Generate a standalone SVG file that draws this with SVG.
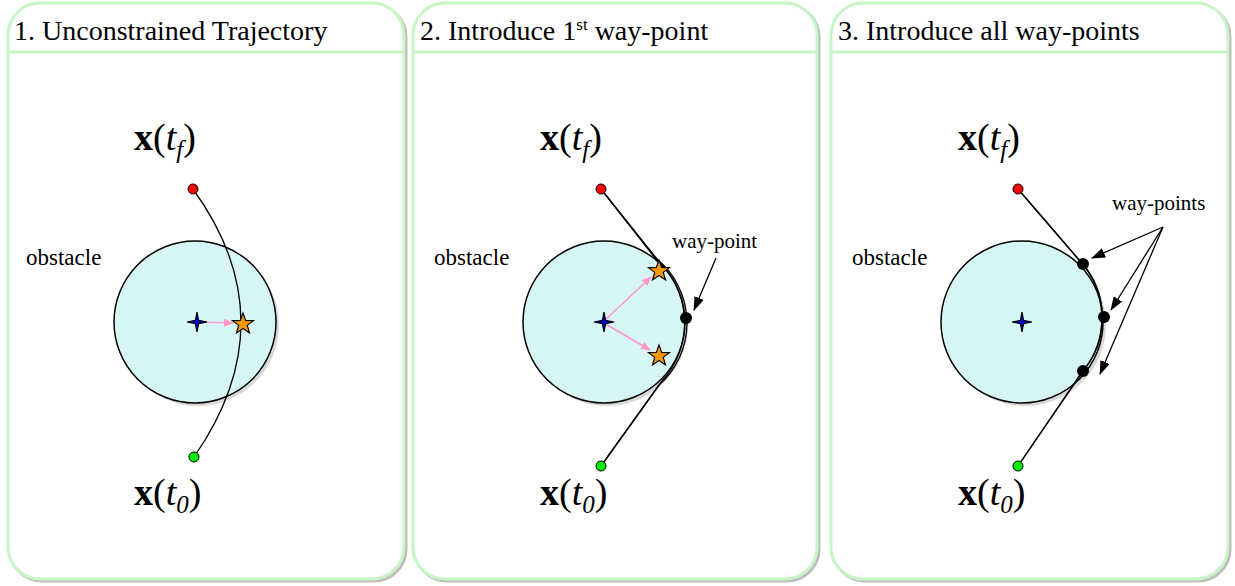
<svg xmlns="http://www.w3.org/2000/svg" width="1235" height="586" viewBox="0 0 1235 586">
<style>
.panel{fill:#fff;stroke:#c8f5c8;stroke-width:3}
.shadow{fill:none;stroke:#bdbdbd;stroke-width:3}
.div{stroke:#c8f5c8;stroke-width:3}
.title{font-family:"Liberation Serif","Times New Roman",serif;font-size:28px;fill:#000}
.lbl{font-family:"Liberation Serif","Times New Roman",serif;font-size:21px;fill:#000}
.obl{font-family:"Liberation Serif","Times New Roman",serif;font-size:23px;fill:#000}
.math{font-family:"Liberation Serif","Times New Roman",serif;font-size:38px;fill:#000}
.obs{fill:#d6f6f6;stroke:#000;stroke-width:1.5}
.obsS{fill:#d9d9d9}
.traj{fill:none;stroke:#000;stroke-width:1.3}
.star{fill:#ff9900;stroke:#000;stroke-width:1.2}
.cross{fill:#0000ee;stroke:#000;stroke-width:1.2}
.pink{stroke:#ff99cc;stroke-width:1.5;fill:none;marker-end:url(#pa)}
.blk{stroke:#000;stroke-width:1.3;fill:none;marker-end:url(#ba)}
</style>
<defs>
<marker id="pa" markerWidth="10" markerHeight="8" refX="9" refY="4" orient="auto" markerUnits="userSpaceOnUse"><path d="M0,0 L10,4 L0,8 Z" fill="#ff99cc"/></marker>
<marker id="ba" markerWidth="14" markerHeight="10" refX="13" refY="5" orient="auto" markerUnits="userSpaceOnUse"><path d="M0,0 L14,5 L0,10 Z" fill="#000"/></marker>
<polygon id="st" points="0,-11 2.65,-3.64 10.46,-3.4 4.28,1.39 6.47,8.9 0,4.5 -6.47,8.9 -4.28,1.39 -10.46,-3.4 -2.65,-3.64"/>
<polygon id="cr" points="0,-10 1.6,-1.6 10,0 1.6,1.6 0,10 -1.6,1.6 -10,0 -1.6,-1.6"/>
</defs>

<g id="panel1">
<rect class="shadow" x="10" y="5" width="396" height="576" rx="32"/>
<rect class="panel" x="8" y="3" width="396" height="576" rx="32"/>
<line class="div" x1="8" y1="52" x2="404" y2="52"/>
<text class="title" x="14" y="40">1. Unconstrained Trajectory</text>
</g>
<g id="panel2">
<rect class="shadow" x="415" y="5" width="404" height="576" rx="32"/>
<rect class="panel" x="413" y="3" width="404" height="576" rx="32"/>
<line class="div" x1="413" y1="52" x2="817" y2="52"/>
<text class="title" x="420" y="40">2. Introduce 1<tspan font-size="17" dy="-10">st</tspan><tspan dy="10"> way-point</tspan></text>
</g>
<g id="panel3">
<rect class="shadow" x="833" y="5" width="397" height="576" rx="32"/>
<rect class="panel" x="831" y="3" width="397" height="576" rx="32"/>
<line class="div" x1="831" y1="52" x2="1228" y2="52"/>
<text class="title" x="838" y="40">3. Introduce all way-points</text>
</g>

<g id="obstacle1">
<circle class="obsS" cx="198" cy="325" r="81"/>
<circle class="obs" cx="195" cy="322" r="81"/>
<text class="obl" x="26" y="265">obstacle</text>
</g>
<g id="obstacle2">
<circle class="obsS" cx="607" cy="325" r="81"/>
<circle class="obs" cx="604" cy="322" r="81"/>
<text class="obl" x="434" y="265">obstacle</text>
</g>
<g id="obstacle3">
<circle class="obsS" cx="1025" cy="325" r="81"/>
<circle class="obs" cx="1022" cy="322" r="81"/>
<text class="obl" x="852" y="265">obstacle</text>
</g>

<g id="connectors">
<path class="traj" d="M193,189 Q288.5,321 194,457"/>
<path class="traj" d="M601,189 L657,259 A83,83 0 0 1 659,385 L601,466"/>
<path class="traj" d="M601,189 L655,258 A86,86 0 0 1 662,381 L601,466"/>
<path class="traj" d="M1018,189 L1081,262 A83,83 0 0 1 1082,372 L1018,466"/>
<path class="traj" d="M1018,189 L1079,260 A85,85 0 0 1 1084,370 L1018,466"/>
<line class="pink" x1="197" y1="322" x2="233" y2="323"/>
<line class="pink" x1="604" y1="321" x2="651" y2="277"/>
<line class="pink" x1="604" y1="323" x2="650" y2="350"/>
<line class="blk" x1="716" y1="258" x2="694" y2="310"/>
<line class="blk" x1="1163" y1="227" x2="1092" y2="258"/>
<line class="blk" x1="1163" y1="227" x2="1111" y2="310"/>
<line class="blk" x1="1163" y1="227" x2="1100" y2="374"/>
</g>

<g id="endpoints1">
<circle cx="193" cy="189" r="5" fill="#ff0000" stroke="#000" stroke-width="1"/>
<circle cx="194" cy="457" r="5" fill="#00ee00" stroke="#000" stroke-width="1"/>
<text class="math" x="134" y="150"><tspan font-weight="bold">x</tspan>(<tspan font-style="italic">t</tspan><tspan font-style="italic" font-size="25" dy="8">f</tspan><tspan dy="-8">)</tspan></text>
<text class="math" x="134" y="505"><tspan font-weight="bold">x</tspan>(<tspan font-style="italic">t</tspan><tspan font-style="italic" font-size="25" dy="8">0</tspan><tspan dy="-8">)</tspan></text>
</g>
<g id="endpoints2">
<circle cx="601" cy="189" r="5" fill="#ff0000" stroke="#000" stroke-width="1"/>
<circle cx="601" cy="466" r="5" fill="#00ee00" stroke="#000" stroke-width="1"/>
<text class="math" x="540" y="150"><tspan font-weight="bold">x</tspan>(<tspan font-style="italic">t</tspan><tspan font-style="italic" font-size="25" dy="8">f</tspan><tspan dy="-8">)</tspan></text>
<text class="math" x="540" y="505"><tspan font-weight="bold">x</tspan>(<tspan font-style="italic">t</tspan><tspan font-style="italic" font-size="25" dy="8">0</tspan><tspan dy="-8">)</tspan></text>
</g>
<g id="endpoints3">
<circle cx="1018" cy="189" r="5" fill="#ff0000" stroke="#000" stroke-width="1"/>
<circle cx="1018" cy="466" r="5" fill="#00ee00" stroke="#000" stroke-width="1"/>
<text class="math" x="958" y="150"><tspan font-weight="bold">x</tspan>(<tspan font-style="italic">t</tspan><tspan font-style="italic" font-size="25" dy="8">f</tspan><tspan dy="-8">)</tspan></text>
<text class="math" x="958" y="505"><tspan font-weight="bold">x</tspan>(<tspan font-style="italic">t</tspan><tspan font-style="italic" font-size="25" dy="8">0</tspan><tspan dy="-8">)</tspan></text>
</g>

<g id="centers">
<use href="#cr" class="cross" x="197" y="322"/>
<use href="#cr" class="cross" x="604" y="322"/>
<use href="#cr" class="cross" x="1022" y="322"/>
</g>
<g id="stars">
<use href="#st" class="star" x="243" y="324"/>
<use href="#st" class="star" x="659" y="271"/>
<use href="#st" class="star" x="659" y="356"/>
</g>
<g id="waypoint2">
<circle cx="686" cy="318" r="6" fill="#000"/>
<text class="lbl" x="672" y="248">way-point</text>
</g>
<g id="waypoints3">
<circle cx="1083" cy="264" r="6" fill="#000"/>
<circle cx="1104" cy="317" r="6" fill="#000"/>
<circle cx="1083" cy="371" r="6" fill="#000"/>
<text class="lbl" x="1112" y="210">way-points</text>
</g>
</svg>
